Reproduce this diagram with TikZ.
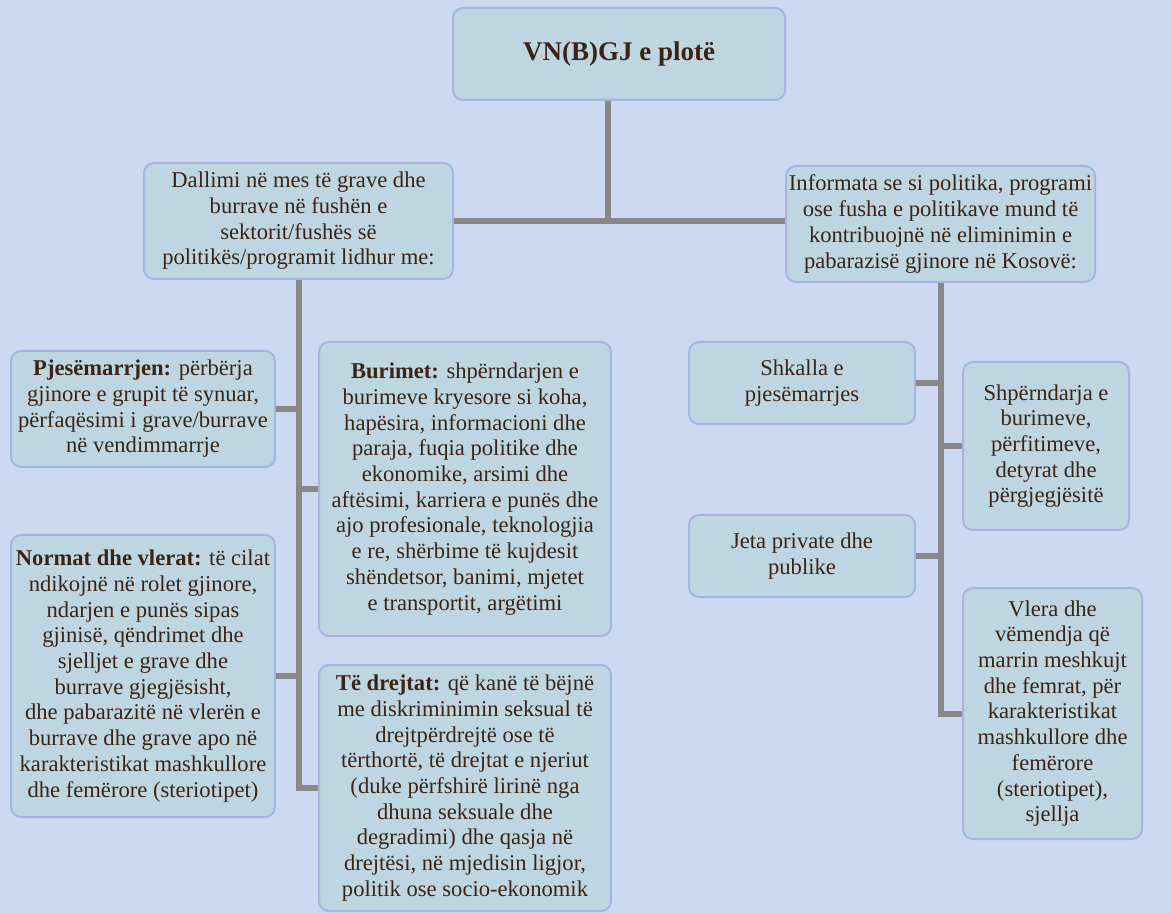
\documentclass[tikz,border=0pt]{standalone}
\usepackage{fontspec}
\setmainfont{Liberation Serif}
\usepackage{tikz}
\usetikzlibrary{positioning}

\definecolor{bgblue}{RGB}{204,217,240}
\definecolor{boxfill}{RGB}{190,214,226}
\definecolor{boxline}{RGB}{168,180,224}
\definecolor{linkgray}{RGB}{136,136,136}
\definecolor{textbrown}{RGB}{60,36,20}

\begin{document}
\begin{tikzpicture}[x=0.5pt,y=-0.5pt,
    box/.style={draw=boxline,line width=1pt,fill=boxfill,rounded corners=5pt,
      align=center,text=textbrown,inner sep=0pt,
      font=\fontsize{11.3}{12.85}\selectfont},
    link/.style={draw=linkgray,line width=3pt}]
        \fill[bgblue] (0,0) rectangle (1171,913);
        \useasboundingbox (0,0) rectangle (1171,913);

        \node [box,minimum width=166pt,minimum height=46pt,
          font=\fontsize{13.5}{15}\selectfont\bfseries] (top) at (619,54) {VN(B)GJ e plotë};

        \node [box,minimum width=154.5pt,minimum height=58pt] (lhead) at (298.5,221)
          {Dallimi në mes të grave dhe\\ burrave në fushën e\\ sektorit/fushës së\\ politikës/programit lidhur me:};
        \node [box,minimum width=154.5pt,minimum height=58pt] (rhead) at (940.5,224)
          {Informata se si politika, programi\\ ose fusha e politikave mund të\\ kontribuojnë në eliminimin e\\ pabarazisë gjinore në Kosovë:};

        % left column
        \node [box,minimum width=132pt,minimum height=58pt] (pjes) at (143,409)
          {\textbf{Pjesëmarrjen:} përbërja\\ gjinore e grupit të synuar,\\ përfaqësimi i grave/burrave\\ në vendimmarrje};
        \node [box,minimum width=146pt,minimum height=147pt] (burim) at (465,489)
          {\textbf{Burimet:} shpërndarjen e\\ burimeve kryesore si koha,\\ hapësira, informacioni dhe\\ paraja, fuqia politike dhe\\ ekonomike, arsimi dhe\\ aftësimi, karriera e punës dhe\\ ajo profesionale, teknologjia\\ e re, shërbime të kujdesit\\ shëndetsor, banimi, mjetet\\ e transportit, argëtimi};
        \node [box,minimum width=132pt,minimum height=141pt] (norm) at (143,676)
          {\textbf{Normat dhe vlerat:} të cilat\\ ndikojnë në rolet gjinore,\\ ndarjen e punës sipas\\ gjinisë, qëndrimet dhe\\ sjelljet e grave dhe\\ burrave gjegjësisht,\\ dhe pabarazitë në vlerën e\\ burrave dhe grave apo në\\ karakteristikat mashkullore\\ dhe femërore (steriotipet)};
        \node [box,minimum width=146pt,minimum height=123pt] (drejt) at (465,788)
          {\textbf{Të drejtat:} që kanë të bëjnë\\ me diskriminimin seksual të\\ drejtpërdrejtë ose të\\ tërthortë, të drejtat e njeriut\\ (duke përfshirë lirinë nga\\ dhuna seksuale dhe\\ degradimi) dhe qasja në\\ drejtësi, në mjedisin ligjor,\\ politik ose socio-ekonomik};

        % right column
        \node [box,minimum width=113pt,minimum height=41pt] (shk) at (802,383)
          {Shkalla e\\ pjesëmarrjes};
        \node [box,minimum width=83pt,minimum height=84pt] (shp) at (1046,446)
          {Shpërndarja e\\ burimeve,\\ përfitimeve,\\ detyrat dhe\\ përgjegjësitë};
        \node [box,minimum width=113pt,minimum height=41pt] (jeta) at (802,556)
          {Jeta private dhe\\ publike};
        \node [box,minimum width=89.5pt,minimum height=125.5pt] (vlera) at (1052.5,713.5)
          {Vlera dhe\\ vëmendja që\\ marrin meshkujt\\ dhe femrat, për\\ karakteristikat\\ mashkullore dhe\\ femërore\\ (steriotipet),\\ sjellja};

        \draw [link] (lhead.east) -- (lhead.east -| rhead.west);
        \draw [link] ([xshift=-5.5pt]top.south) -- ([xshift=-5.5pt]top.south |- lhead.east);

        \draw [link] (lhead.south) -- (lhead.south |- drejt.west) -- (drejt.west);
        \draw [link] (pjes.east) -- (pjes.east -| lhead.south);
        \draw [link] (burim.west) -- (burim.west -| lhead.south);
        \draw [link] (norm.east) -- (norm.east -| lhead.south);

        \draw [link] (rhead.south) -- (rhead.south |- vlera.west) -- (vlera.west);
        \draw [link] (shk.east) -- (shk.east -| rhead.south);
        \draw [link] (shp.west) -- (shp.west -| rhead.south);
        \draw [link] (jeta.east) -- (jeta.east -| rhead.south);
    \end{tikzpicture}
\end{document}
